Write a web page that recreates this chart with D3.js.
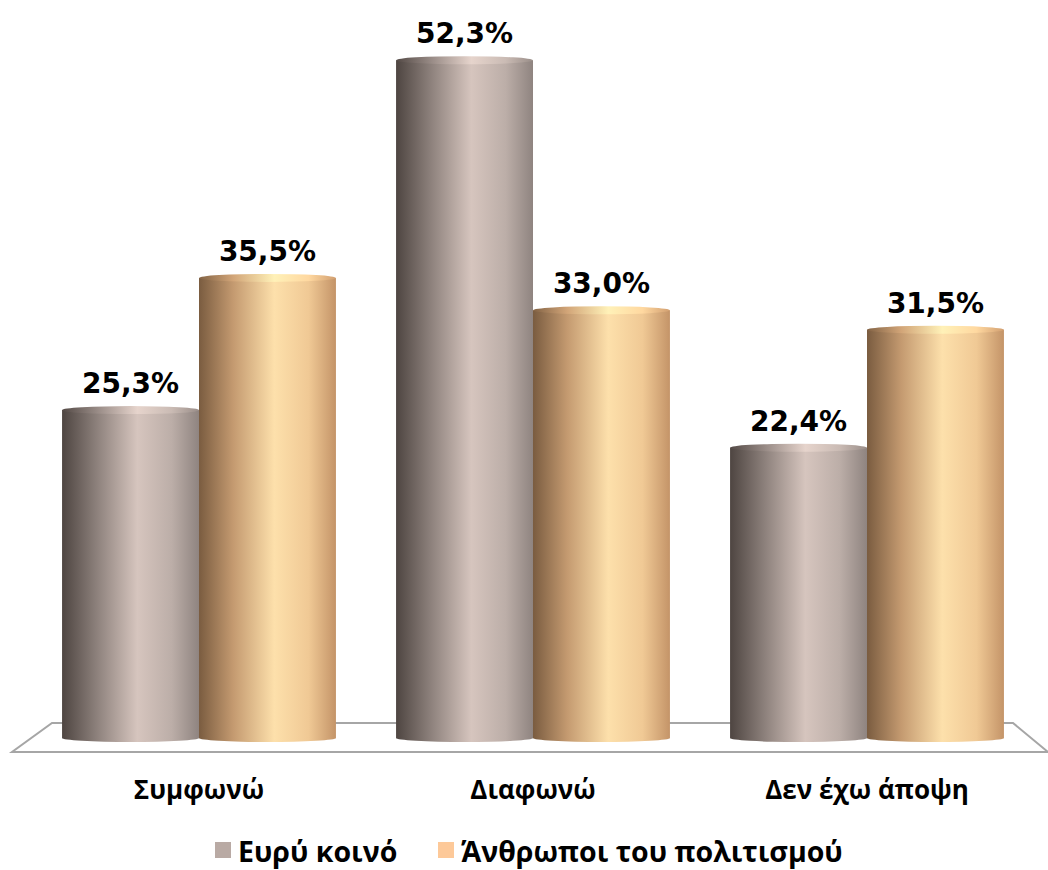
<!DOCTYPE html>
<html><head><meta charset="utf-8">
<script src="https://cdn.jsdelivr.net/npm/d3@7"></script>
<style>body{margin:0;background:#fff}svg{display:block}</style>
</head><body>
<svg id="c" width="1048" height="870"></svg>
<script>
const categories = ["Συμφωνώ", "Διαφωνώ", "Δεν έχω άποψη"];
const seriesNames = ["Ευρύ κοινό", "Άνθρωποι του πολιτισμού"];
const generalPublic = [25.3, 52.3, 22.4];
const culturePeople = [35.5, 33.0, 31.5];
const valueLabels = [["25,3%", "52,3%", "22,4%"], ["35,5%", "33,0%", "31,5%"]];

const series = [generalPublic, culturePeople];
const svg = d3.select("#c");

const x0 = d3.scaleBand().domain(categories).range([32, 1034]).paddingInner(0.18).paddingOuter(0.09);
const x1 = d3.scaleBand().domain([0, 1]).range([0, x0.bandwidth()]).padding(0);
const y = d3.scaleLinear().domain([0, 60]).range([738, 738 - 60 * 12.96]);

const defs = svg.append("defs");
const grads = [
  [["0%", "#4e4541"], ["25%", "#8c807b"], ["55%", "#d6c5be"], ["80%", "#bcaea8"], ["100%", "#8f8480"]],
  [["0%", "#7a5c40"], ["25%", "#c49a70"], ["55%", "#fde0ab"], ["80%", "#f0c995"], ["100%", "#c49468"]]
];
grads.forEach((stops, i) => {
  const g = defs.append("linearGradient").attr("id", "g" + i).attr("x1", "0").attr("x2", "1").attr("y1", "0").attr("y2", "0");
  stops.forEach(s => g.append("stop").attr("offset", s[0]).attr("stop-color", s[1]));
  const t = defs.append("linearGradient").attr("id", "t" + i).attr("x1", "0").attr("x2", "1").attr("y1", "0").attr("y2", "0");
  stops.forEach(s => t.append("stop").attr("offset", s[0]).attr("stop-color", d3.color(s[1]).brighter(0.2)));
});

// floor
svg.append("path")
  .attr("d", `M52,723 L1013,723 L1048,752 L12,752 Z`)
  .attr("fill", "#fff").attr("stroke", "#a6a6a6").attr("stroke-width", 2);

const ry = 4;
categories.forEach((cat, ci) => {
  series.forEach((vals, si) => {
    const bx = x0(cat) + x1(si);
    const bw = x1.bandwidth();
    const top = y(vals[ci]);
    const base = y(0);
    const g = svg.append("g");
    g.append("path")
      .attr("d", `M${bx},${top} L${bx},${base} A${bw/2},${ry} 0 0 0 ${bx+bw},${base} L${bx+bw},${top} Z`)
      .attr("fill", `url(#g${si})`);
    g.append("ellipse").attr("cx", bx + bw/2).attr("cy", top).attr("rx", bw/2).attr("ry", ry)
      .attr("fill", `url(#t${si})`);
    svg.append("text")
      .attr("x", bx + bw/2).attr("y", top - 17)
      .attr("text-anchor", "middle")
      .attr("font-family", "'DejaVu Sans', sans-serif").attr("font-weight", "bold")
      .attr("font-size", 28).attr("fill", "#000")
      .text(valueLabels[si][ci]);
  });
});

// category axis labels
const xAxis = d3.axisBottom(x0).tickSize(0).tickPadding(0);
const ax = svg.append("g").attr("transform", "translate(0,781)").call(xAxis);
ax.select(".domain").remove();
ax.selectAll("text").attr("font-family", "'Open Sans', sans-serif").attr("font-weight", "bold")
  .attr("font-size", 26).attr("fill", "#000");

// legend
const legX = [215, 438];
const legColors = ["#b9aaa4", "#fdc999"];
seriesNames.forEach((n, i) => {
  svg.append("rect").attr("x", legX[i]).attr("y", 842).attr("width", 16).attr("height", 16).attr("fill", legColors[i]);
  svg.append("text").attr("x", legX[i] + 23).attr("y", 862)
    .attr("font-family", "'Open Sans', sans-serif").attr("font-weight", "bold").attr("font-size", 28.5).attr("fill", "#000")
    .text(n);
});
</script>
</body></html>
